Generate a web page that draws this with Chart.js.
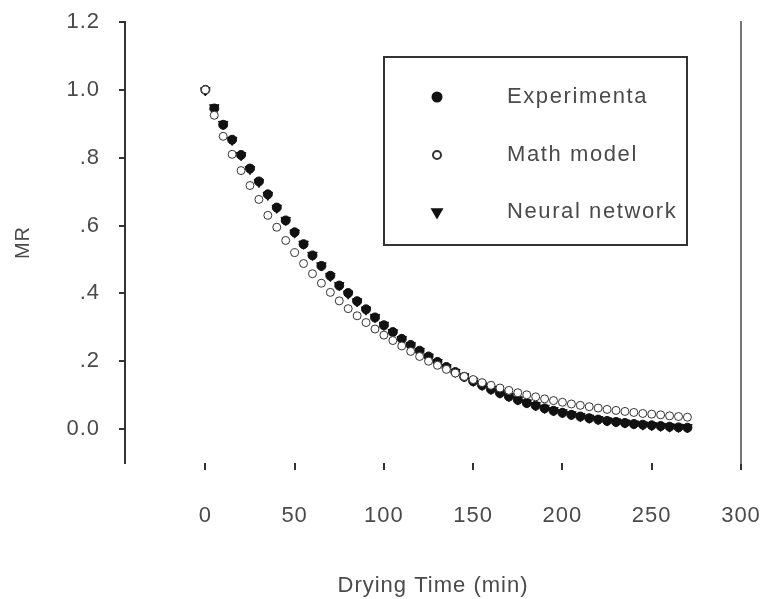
<!DOCTYPE html>
<html>
<head>
<meta charset="utf-8">
<script src="https://cdn.jsdelivr.net/npm/chart.js@4/dist/chart.umd.min.js"></script>
<style>
  html, body { margin: 0; padding: 0; background: #fff; }
  #wrap { width: 764px; height: 599px; position: relative; }
</style>
</head>
<body>
<div id="wrap"><canvas id="mrChart"></canvas></div>
<script>
// drying time (min)
const times = [0, 5, 10, 15, 20, 25, 30, 35, 40, 45, 50, 55, 60, 65, 70, 75, 80, 85, 90, 95,
  100, 105, 110, 115, 120, 125, 130, 135, 140, 145, 150, 155, 160, 165, 170, 175, 180, 185, 190, 195,
  200, 205, 210, 215, 220, 225, 230, 235, 240, 245, 250, 255, 260, 265, 270];

const experiments = [1.000, 0.945, 0.897, 0.853, 0.808, 0.768, 0.730, 0.692, 0.653, 0.615,
  0.580, 0.545, 0.512, 0.481, 0.452, 0.423, 0.401, 0.377, 0.353, 0.329,
  0.306, 0.286, 0.266, 0.248, 0.231, 0.214, 0.198, 0.183, 0.168, 0.154,
  0.141, 0.129, 0.117, 0.106, 0.096, 0.086, 0.077, 0.069, 0.061, 0.054,
  0.048, 0.042, 0.037, 0.032, 0.028, 0.024, 0.021, 0.018, 0.015, 0.013,
  0.011, 0.009, 0.007, 0.005, 0.004];

const mathModel = [1.000, 0.925, 0.863, 0.810, 0.762, 0.718, 0.677, 0.630, 0.595, 0.556,
  0.520, 0.488, 0.458, 0.430, 0.403, 0.378, 0.355, 0.334, 0.314, 0.295,
  0.277, 0.261, 0.245, 0.229, 0.214, 0.200, 0.188, 0.176, 0.165, 0.155,
  0.146, 0.137, 0.129, 0.121, 0.114, 0.107, 0.101, 0.095, 0.089, 0.084,
  0.079, 0.074, 0.070, 0.066, 0.062, 0.058, 0.055, 0.052, 0.049, 0.046,
  0.044, 0.042, 0.039, 0.037, 0.035];

const neuralNetwork = [0.998, 0.948, 0.899, 0.852, 0.807, 0.766, 0.728, 0.690, 0.652, 0.616,
  0.579, 0.546, 0.513, 0.482, 0.451, 0.424, 0.399, 0.376, 0.352, 0.330,
  0.307, 0.285, 0.265, 0.247, 0.230, 0.213, 0.197, 0.182, 0.168, 0.155,
  0.142, 0.130, 0.118, 0.107, 0.097, 0.087, 0.078, 0.070, 0.062, 0.055,
  0.049, 0.043, 0.038, 0.033, 0.029, 0.025, 0.022, 0.019, 0.016, 0.013,
  0.011, 0.009, 0.007, 0.006, 0.005];

const xTicks = [0, 50, 100, 150, 200, 250, 300];
const yTicks = [0, 0.2, 0.4, 0.6, 0.8, 1.0, 1.2];

const toPoints = (arr) => times.map((t, i) => ({ x: t, y: arr[i] }));
const fmtY = (v) => (v === 0 || v >= 1) ? v.toFixed(1) : v.toFixed(1).replace(/^0/, '');

const FONT = "'Liberation Sans', Arial, sans-serif";
const TEXT = '#4a4a4a';

// stop edge tick labels from pushing the plot area in
const noEdgePad = (s) => {
  s.paddingLeft = 0; s.paddingRight = 0; s.paddingTop = 0; s.paddingBottom = 0;
};

// the scanned figure has rather wide text
const spacing = {
  id: 'spacing',
  beforeDraw(chart) { chart.ctx.letterSpacing = '1px'; }
};

// legend box drawn inside the plot, like the original figure
const boxLegend = {
  id: 'boxLegend',
  afterDraw(chart) {
    const ctx = chart.ctx;
    ctx.save();
    ctx.letterSpacing = '1.6px';
    ctx.strokeStyle = '#333';
    ctx.lineWidth = 2;
    ctx.strokeRect(384, 57, 303, 188);
    const rows = [97, 155, 212];
    ctx.font = '22px ' + FONT;
    ctx.textBaseline = 'middle';
    ctx.textAlign = 'left';
    chart.data.datasets.slice().sort((a, b) => a.legendOrder - b.legendOrder).forEach((ds, i) => {
      ctx.fillStyle = ds.backgroundColor;
      ctx.strokeStyle = ds.borderColor;
      Chart.helpers.drawPoint(ctx, {
        pointStyle: ds.pointStyle,
        rotation: ds.rotation || 0,
        radius: ds.pointRadius,
        borderWidth: ds.borderWidth
      }, 437, rows[i]);
      ctx.fillStyle = TEXT;
      ctx.fillText(ds.label, 507, rows[i]);
    });
    ctx.restore();
  }
};

new Chart(document.getElementById('mrChart'), {
  type: 'scatter',
  data: {
    datasets: [
      {
        label: 'Math model',
        legendOrder: 1,
        data: toPoints(mathModel),
        pointStyle: 'circle',
        pointRadius: 4,
        borderWidth: 1,
        borderColor: '#333',
        backgroundColor: '#fff'
      },
      {
        label: 'Experimenta',
        legendOrder: 0,
        data: toPoints(experiments),
        pointStyle: 'circle',
        pointRadius: 4.5,
        borderWidth: 1,
        borderColor: '#111',
        backgroundColor: '#111'
      },
      {
        label: 'Neural network',
        legendOrder: 2,
        data: toPoints(neuralNetwork),
        pointStyle: 'triangle',
        rotation: 180,
        pointRadius: 5.5,
        borderWidth: 1,
        borderColor: '#111',
        backgroundColor: '#111'
      }
    ]
  },
  options: {
    responsive: true,
    maintainAspectRatio: false,
    animation: false,
    layout: { padding: { top: 22, left: 0, right: 0, bottom: 0 } },
    plugins: {
      legend: { display: false },
      tooltip: { enabled: false }
    },
    scales: {
      x: {
        type: 'linear',
        min: -45,
        max: 300,
        afterBuildTicks: (s) => { s.ticks = xTicks.map(v => ({ value: v })); },
        afterFit: (s) => { s.height = 136; noEdgePad(s); },
        border: { display: false },
        grid: { drawOnChartArea: false, drawTicks: true, tickLength: 7, tickColor: '#333', lineWidth: 2 },
        ticks: { color: TEXT, padding: 33, font: { family: FONT, size: 22 }, maxRotation: 0 },
        title: { display: true, text: 'Drying Time (min)', color: TEXT, font: { family: FONT, size: 22 }, padding: { top: 0, bottom: 0 } }
      },
      y: {
        min: -0.1,
        max: 1.2,
        afterBuildTicks: (s) => { s.ticks = yTicks.map(v => ({ value: v })); },
        afterFit: (s) => { s.width = 125; noEdgePad(s); },
        border: { display: true, color: '#333', width: 2 },
        grid: { drawOnChartArea: false, drawTicks: true, tickLength: 6, tickColor: '#333', lineWidth: 2 },
        ticks: { color: TEXT, padding: 19, font: { family: FONT, size: 22 }, callback: fmtY },
        title: { display: true, text: 'MR', color: TEXT, font: { family: FONT, size: 20 }, padding: { top: 11, bottom: 0 } }
      },
      y2: {
        position: 'right',
        min: 0,
        max: 1,
        afterFit: (s) => { s.width = 23; noEdgePad(s); },
        border: { display: true, color: '#777', width: 2 },
        grid: { drawOnChartArea: false, drawTicks: false },
        ticks: { display: false }
      }
    }
  },
  plugins: [spacing, boxLegend]
});
</script>
</body>
</html>
